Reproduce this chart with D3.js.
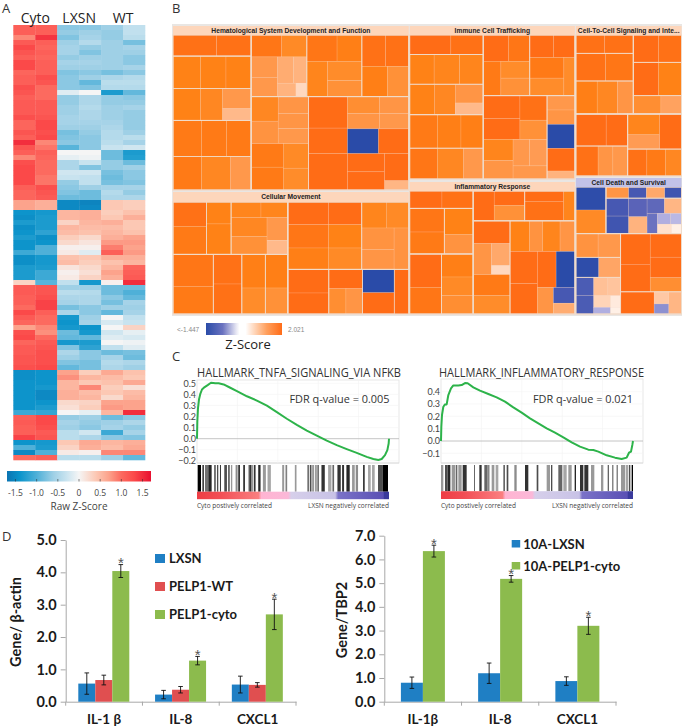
<!DOCTYPE html>
<html><head><meta charset="utf-8">
<script src="https://d3js.org/d3.v7.min.js"></script>
<style>html,body{margin:0;padding:0;background:#fff}svg{display:block}</style>
</head><body><svg id="c" width="683" height="727"></svg>
<script>
// ---------- A: heatmap ----------
const heatCols = ["Cyto1","Cyto2","LXSN1","LXSN2","WT1","WT2"];
const heatGroups = ["Cyto","LXSN","WT"];
const heatRows = [
[1.1,1.1,-.7,-.7,-.6,-.35],[1.1,1.1,-.65,-.6,-.65,-.35],[.85,1.45,-.75,-.55,-.65,-.4],[1.15,1.1,-.6,-.45,-.6,-.8],
[1.3,1.05,-.55,-.65,-.6,-.55],[1.2,1.1,-.55,-.75,-.6,-.6],[1.1,1.05,-.65,-.6,-.6,-.7],[1.3,1.1,-.55,-.55,-.6,-.7],
[1.3,1.1,-.6,-.6,-.6,-.55],[1.05,1.1,-.75,-.7,-.8,-.7],[1.1,1.25,-.7,-.6,-.5,-.45],[1.1,1.2,-.7,-.9,-.4,-.4],
[1.25,1,-.7,-.75,-.45,-.45],[1.2,1,-.15,0,-1.3,-.9],[1.1,1,-.65,-.5,-.65,-.7],[1.15,1.15,-.65,-.5,-.65,-.65],
[1.15,1.15,-.6,-.45,-.6,-.55],[1.15,1.15,-.6,-.5,-.6,-.65],[1.25,1.2,-.55,-.5,-.6,-.65],[1.05,1.3,-.55,-.55,-.55,-.65],
[1.05,1.3,-.6,-.6,-.5,-.65],[1.2,1.25,-.8,-.65,-.45,-.6],[1.1,1.3,-.75,-.7,-.45,-.4],[1.5,.85,-.7,-.7,-.4,-.55],
[1.2,.95,-.95,-.7,-.3,-.25],[1.1,1.1,0,0,-.85,-1.3],[.85,1.05,-.1,-.05,-.85,-1.25],[1.25,1,-.5,-.3,-.65,-.85],
[1.3,1,-.5,-.75,-.65,-.6],[1.3,1,-.25,-.25,-.8,-.7],[1.3,.95,-.3,-.35,-.85,-.7],[1.3,.95,-.65,-.35,-.8,-.75],
[1.1,1.25,-.7,-.6,-.55,-.55],[1.05,1.2,-.75,-.85,-.45,-.65],[1.05,1.15,-.85,-.85,-.5,-.5],[.7,.6,-1.5,-1.55,.4,.35],
[.7,.6,-1.5,-1.5,.4,.35],[-1.4,-1.35,.55,.6,.35,.45],[-1.45,-1.3,.55,.6,.4,.6],[-1.3,-1.3,.3,.55,.6,.4],
[-1.45,-1.3,.55,.5,.5,.4],[-1.4,-1.2,.5,.45,.55,.45],[-1.3,-1.45,.35,.25,.6,.7],[-1.4,-1.4,.25,.15,.75,.75],
[-1.4,-1,.05,.05,.9,.7],[-1.1,-1,.1,-.15,1.1,.75],[-1.45,-1.35,.45,.4,.6,.6],[-1.45,-1.35,.5,.35,.45,.55],
[-1.3,-1.3,.15,.25,.55,1.05],[-1.3,-1.1,.05,.2,.7,1.1],[-1.3,-1.1,.1,.3,.6,1.15],[.3,-.95,-.35,-1.35,.05,1.5],
[1.15,1.2,-.6,-.6,-.85,-.85],[1.15,1.2,-.4,-.45,-.85,-1],[1.1,1.25,-.5,-.5,-.7,-.9],[1.1,1.35,-.55,-.5,-.8,-.55],
[1,1.35,-.8,-.7,-.6,-.6],[1.3,1.1,-.5,-.7,-.9,-.55],[1.15,1,-1.35,-.6,0,-.35],[1.05,1,-1.4,-.55,-.2,-.3],
[.7,.85,-1.35,-1.4,0,.3],[1.25,.8,-.85,-1.35,-.25,-.1],[1.3,1,-.9,-.9,-.15,-.2],[1.05,1.15,-1.35,-1.3,0,-.05],
[1.15,1.2,-.75,-1.2,-.35,-.15],[1.15,1.25,-.5,-.7,-.85,-.8],[1.2,1.25,-.6,-.7,-.55,-.85],[1.2,1.25,-.75,-.8,-.45,-.5],
[1.25,1.3,-.9,-.8,-.5,-.6],[-1.45,-1.4,.7,.35,.65,.45],[-1.45,-1.4,.8,.55,.5,.4],[-1.4,-1.4,.55,.4,.45,.65],
[-1.4,-1.35,.55,.85,.35,.2],[-1.4,-1.5,.6,.5,.4,.5],[-1.4,-1.5,.6,.55,.25,.55],[-1.4,-1.4,.25,.3,.7,.7],
[-1.4,-1.3,.2,.35,.75,.7],[-1.1,-1.15,0,-.1,.55,1.5],[1.1,1.3,-.65,-.6,-.85,-.7],[1.15,1.3,-.55,-.65,-.6,-.5],
[1.1,1.25,-.6,-.7,-.55,-.65],[1.1,1.15,-.4,-.25,-1.1,-.55],[1.35,1.2,-.4,-.5,-.7,-.75],[-1.4,-1.35,.4,.65,.55,.6],
[-1,-1.3,.3,.6,.5,.65],[-1.5,-1,.1,.05,.85,.85],[1,1.1,-.4,-.4,-.6,-.9]];
const heatLegendTicks = [-1.5,-1,-.5,0,.5,1,1.5];
const heatLegendLabels = ["-1.5","-1.0","-0.5","0","0.5","1.0","1.5"];
const heatDomain = [-1.7,-1.4,-1,-.6,-.3,0,.4,.7,1,1.3,1.7];
const heatColors = ["#0b74b2","#0a94cb","#4fb0d8","#9fd0e6","#c8e3ef","#f5f5f5","#fcc8b4","#fca38c","#fc6a5f","#fb4a4a","#e81030"];

// ---------- B: treemap. Node: [size, z] | [size,"h"|"v",...children] | [size,"Header"] | [size]
const hemeCells = [155,"h",
 [233,"v",[63,"h",[130,1.95],[103,1.95]],
  [192,"v",[97,"h",[82,1.75],[76,1.75],[75,1.75]],[95,"h",[82,1.75],[66,1.65],[85,"v",[60,1.3],[35,.8]]]],
  [208,"v",[108,"h",[85,1.85],[75,1.85],[73,1.85]],[100,"h",[85,1.85],[87,1.65],[61,1.3]]]],
 [470,"v",
  [185,"h",
   [164,"v",[65,"h",[90,1.9],[74,1.6]],[118,"h",[78,"v",[62,1.3],[56,1.3]],[86,"v",[78,"h",[47,1],[39,.9]],[40,"h",[54,.9],[32,.4]]]]],
   [162,"v",[78,"h",[89,1.9],[73,1.8]],[105,"h",[61,1.7],[101,"v",[57,1.55],[48,1.45]]]],
   [138,"v",[93,"h",[70,1.95],[68,1.95]],[90,"h",[75,1.8],[63,1.45]]]],
  [280,"h",
   [170,"v",[140,"h",[80,"v",[73,1.65],[67,1.4]],[90,"v",[50,1.35],[45,1.35],[45,1.3]]],
    [138,"h",[95,"v",[70,1.85],[68,1.85]],[75,"v",[73,1.6],[65,1.55]]]],
   [296,"v",[172,"h",[115,"v",[95,2],[77,2]],
     [181,"v",[95,"h",[93,"v",[50,1.5],[45,1.35]],[86,"v",[50,1.35],[45,1.3]]],[73,"h",[90,-1.447],[88,2]]]],
    [110,"h",[115,2],[181,"h",[110,"v",[55,2],[55,2]],[71,"v",[82,2],[28,.85]]]]]]]];
const immuneCells = [144,"h",
 [218,"v",[58,"h",[122,2],[96,1.95]],
  [180,"v",[89,"h",[72,1.75],[75,1.7],[70,1.7]],[91,"h",[73,1.75],[62,1.65],[83,"v",[56,1.35],[35,.8]]]],
  [192,"v",[100,"h",[82,1.85],[70,1.8],[66,1.8]],[92,"h",[82,1.9],[78,1.65],[58,1.3]]]],
 [272,"v",
  [182,"h",
   [137,"v",[78,"h",[75,2],[62,1.9]],[102,"h",[52,1.85],[85,"v",[50,1.55],[52,1.45]]]],
   [133,"v",[67,"h",[69,2],[62,2]],[113,"h",[99,"v",[61,1.85],[52,1.55]],[32,1.55]]]],
  [250,"h",
   [188,"v",[130,"h",[107,"v",[68,2],[62,2]],[79,"v",[73,1.95],[57,1.45]]],
    [118,"h",[87,"v",[63,1.7],[55,1.35]],[99,"v",[79,"h",[48,1.3],[51,1.25]],[39,1.3]]]],
   [82,"v",[43,1.3],[43,1.35],[72,-1.447],[68,2],[24,.9]]]]];
const signalCells = [141,"v",
 [237,"h",
  [170,"v",[55,"h",[85,1.95],[85,1.95]],[83,"h",[88,1.95],[82,1.9]],[99,"h",[63,1.8],[60,1.65],[47,1.35]]],
  [143,"v",[82,"h",[75,2],[68,1.95]],[100,"h",[75,2],[68,1.75]],[55,"h",[82,1.5],[61,1.15]]]],
 [186,"h",
  [154,"v",[94,"h",[90,2],[64,2]],[88,"h",[66,1.95],[44,1.35],[44,1.3]]],
  [160,"v",[103,"h",[94,"v",[61,1.7],[42,1.25]],[64,2]],[79,"h",[57,1.95],[55,1.85],[48,1.65]]]]];
const moveCells = [112,"h",
 [342,"v",
  [157,"h",[100,"v",[72,1.95],[83,1.85]],[73,"v",[65,1.75],[90,1.75]],
   [169,"v",[47,"h",[89,1.7],[80,1.7]],[110,"h",[107,"v",[56,1.65],[52,1.45]],[62,"v",[68,1.3],[42,.8]]]]],
  [179,"h",[120,"v",[96,1.9],[83,1.85]],[85,"v",[89,1.95],[90,1.95]],[70,"v",[101,1.8],[78,1.55]],[67,"v",[101,1.8],[78,1.45]]]],
 [360,"v",
  [202,"h",[217,"v",[68,"h",[120,2],[97,2]],[70,"h",[120,1.9],[97,1.75]],[64,"h",[120,1.8],[97,1.6]]],
   [138,"v",[78,"h",[72,1.7],[66,1.6]],[124,"h",[95,"v",[64,1.4],[60,1.35]],[43,1.4]]]],
  [134,"h",[122,"v",[71,2],[63,2]],[100,"v",[58,2],[76,"h",[50,1.5],[48,1.35]]],[95,"v",[69,-1.447],[63,2]],[43,2]]]];
const inflamCells = [123,"h",
 [187,"v",[52,"h",[95,2],[92,1.95]],
  [137,"h",[102,"v",[70,1.9],[65,1.85]],[85,"v",[78,1.75],[57,1.4]]],
  [180,"h",[93,"v",[100,2],[80,1.9]],[92,"v",[69,1.8],[56,1.6],[55,1.5]]]],
 [300,"v",
  [90,"h",[152,"h",[62,2],[90,"v",[43,2],[47,1.45]]],[148,"h",[115,"v",[31,2],[59,1.95]],[33,1.7]]],
  [281,"h",
   [108,"v",[68,2],[93,"h",[53,1.35],[54,"v",[66,1.05],[27,.4]]],[118,"v",[63,1.85],[55,1.55]]],
   [190,"v",[91,"h",[57,1.75],[38,1.4],[50,1.7],[43,1.35]],
    [186,"h",[80,"v",[96,2],[90,2]],
     [110,"v",[106,"h",[55,2],[55,-1.447]],[78,"h",[47,1.35],[63,"v",[45,-1.15],[31,1]]]]]]]]];
const deathCells = [127,"v",
 [140,"h",
  [90,"v",[68,-1.4],[70,1.6]],
  [226,"v",[33,"h",[68,1.35],[53,-1.15],[55,1.05],[50,-1.2]],
   [105,"h",[68,"v",[53,-1.15],[52,-1.2]],[55,"v",[55,-1],[50,.9]],
    [103,"v",[45,"h",[52,-.95],[51,.85]],[60,"h",[31,-.8],[72,"v",[32,"h",[39,-.4],[33,-.35]],[28,"h",[42,.3],[30,.15]]]]]]]],
 [241,"h",
  [133,"v",[71,"h",[66,1.4],[67,1.3]],[60,"h",[68,-1.4],[65,1.1]],
   [110,"h",[53,"v",[54,-1.1],[56,-1.1]],[80,"v",[55,"h",[42,.7],[38,.65]],[35,"h",[50,.45],[30,.2]],[20,"h",[50,-.4],[30,.15]]]]],
  [181,"v",[173,"h",[88,"v",[91,2],[82,2]],[93,"v",[70,2],[61,2],[42,1.5]]],
   [66,"h",[98,2],[43,"v",[36,.6],[30,-.6]],[37,.85]]]]];
const treeRoot = ["h",
 [235.5,"v",[9,"Hematological System Development and Function"],hemeCells,[2],[10,"Cellular Movement"],moveCells],
 [1],
 [165,"v",[9,"Immune Cell Trafficking"],immuneCells,[3],[9,"Inflammatory Response"],inflamCells],
 [1],
 [105.5,"v",[9,"Cell-To-Cell Signaling and Inte..."],signalCells,[2],[9,"Cell Death and Survival"],deathCells]];
const zDomain = [-1.447,-1.2,-1,-.8,-.4,0,.3,.7,1.1,1.35,1.6,1.8,2];
const zColors = ["#2a4ca8","#3f55b0","#5a64b8","#6a72c0","#b0aee0","#ffffff","#ffe0cc","#ffc096","#ffa565","#ff9545","#ff8a25","#ff7f15","#ff6c18"];

// ---------- C: GSEA ----------
const esTicksA = [.5,.4,.3,.2,.1,0,-.1,-.2];
const esTicksB = [.4,.3,.2,.1,0,-.1];
const rankA = [0,1,3,6,10,15,23,32,42,55,65,80,100,120,150,180,210,240,270,300,330,360,390,420,450,480,510,530,545,555,565,572,576,577];
const esA = [0,.155,.277,.353,.405,.444,.466,.484,.505,.5,.5,.49,.46,.43,.383,.344,.298,.24,.18,.125,.073,.027,-.018,-.058,-.094,-.128,-.164,-.183,-.192,-.183,-.149,-.103,-.043,0];
const rankB = [0,1,3,7,12,17,22,30,37,52,62,72,80,97,117,142,167,192,217,242,267,292,317,342,367,392,417,442,457,472,497,522,542,557,564,570,574,576];
const esB = [0,.116,.211,.278,.297,.297,.373,.427,.451,.451,.454,.47,.468,.435,.408,.381,.354,.319,.273,.23,.184,.143,.103,.068,.03,-.011,-.046,-.07,-.073,-.086,-.116,-.135,-.146,-.135,-.095,-.086,-.032,0];
const hitsA = [[2,12,1],[16,21,.75],[24,34,.55],[34,44,.85],[52,56,.8],[60,64,.7],[69,72,.8],[82,90,.7],[94,98,.8],[102,106,.4],[116,122,.45],[124,129,.85],[139,144,.85],[154,157,.4],[157,164,.8],[164,169,.4],[171,176,.8],[184,191,.85],[198,207,.4],[212,222,.35],[256,262,.4],[266,271,.5],[294,299,.4],[332,336,.7],[339,344,.7],[346,352,.4],[356,359,.7],[362,366,.7],[374,384,.8],[394,404,.35],[407,412,.6],[422,432,.8],[436,442,.8],[449,459,.85],[466,474,.4],[477,484,.45],[499,504,.8],[514,522,.35],[526,534,.35],[544,556,.7],[557,574,1]];
const hitsB = [[0,7,.4],[12,18,.7],[19,28,.85],[32,42,.4],[44,49,.6],[52,62,.4],[65,77,.8],[100,102,.9],[115,122,.8],[130,140,.6],[142,145,.7],[152,160,.4],[164,172,.35],[187,192,.6],[197,202,.7],[220,227,.45],[252,262,.8],[287,292,.7],[317,327,.4],[330,334,.7],[352,364,.6],[367,377,.35],[382,392,.4],[401,405,.85],[417,427,.8],[430,442,.8],[450,460,.4],[480,487,.4],[500,504,.6],[514,517,.7],[527,530,.7],[540,552,.4],[554,562,.35],[564,568,.7],[572,576,1]];
const barStops = [[0,"#ee3d44"],[.12,"#f24e55"],[.32,"#fa7f80"],[.335,"#ffb4d2"],[.475,"#fbb8d8"],[.49,"#d6cfea"],[.72,"#c8c2e6"],[.735,"#7a72c8"],[.97,"#5a50b4"],[.975,"#3a3a9c"],[1,"#3a3a9c"]];

// ---------- D: bars ----------
const genesL = ["IL-1 β","IL-8","CXCL1"];
const seriesL = ["LXSN","PELP1-WT","PELP1-cyto"];
const lxsnL = [.56,.22,.53], lxsnErrL = [.33,.13,.26];
const wtL = [.67,.37,.52], wtErrL = [.15,.1,.07];
const cytoL = [4.04,1.27,2.7], cytoErrL = [.2,.13,.47];
const genesR = ["IL-1β","IL-8","CXCL1"];
const seriesR = ["10A-LXSN","10A-PELP1-cyto"];
const lxsnR = [.8,1.2,.87], lxsnErrR = [.24,.43,.18];
const cytoR = [6.35,5.18,3.2], cytoErrR = [.25,.14,.36];

const svg = d3.select("#c");
const sans = "'Open Sans','Noto Sans',sans-serif", lato = "Lato,sans-serif", arial = "'Liberation Sans',Arial,sans-serif";
const txt = (x,y,s,o={}) => svg.append("text").attr("x",x).attr("y",y).text(s)
  .attr("font-family",o.f||sans).attr("font-size",o.s||11).attr("font-weight",o.w||400)
  .attr("fill",o.c||"#222").attr("text-anchor",o.a||"start");
const defs = svg.append("defs");
defs.append("filter").attr("id","soft").attr("x","-2%").attr("y","-2%").attr("width","104%").attr("height","104%")
  .append("feGaussianBlur").attr("stdDeviation",.55);

// panel letters
[["A",2,13],["B",172,13],["C",172,361],["D",2,541]].forEach(d=>txt(d[1],d[2],d[0],{s:13,c:"#333"}));

// --- heatmap
const hx = d3.scaleBand().domain(heatCols).range([13.3,145]);
const hy = d3.scaleBand().domain(d3.range(heatRows.length)).range([25,460]);
const heat = d3.scaleLinear().domain(heatDomain).range(heatColors).clamp(true);
const hm = svg.append("g").attr("filter","url(#soft)");
hm.selectAll("g").data(heatRows).join("g").each(function(row,i){
  d3.select(this).selectAll("rect").data(row).join("rect")
    .attr("x",(d,j)=>hx(heatCols[j])).attr("y",hy(i))
    .attr("width",hx.bandwidth()+.3).attr("height",hy.bandwidth()+.3).attr("fill",d=>heat(d));
});
heatGroups.forEach((g,i)=>txt(hx(heatCols[i*2+1]),23,g,{s:14,a:"middle",c:"#222"}));
const hgrad = defs.append("linearGradient").attr("id","hgrad");
heatDomain.forEach((d,i)=>hgrad.append("stop").attr("offset",(d+1.7)/3.4).attr("stop-color",heatColors[i]));
const hl = d3.scaleLinear().domain([-1.7,1.7]).range([7,151]);
svg.append("rect").attr("x",hl(-1.7)).attr("y",471).attr("width",hl(1.7)-hl(-1.7)).attr("height",10.5).attr("fill","url(#hgrad)");
svg.append("g").selectAll("line").data(heatLegendTicks).join("line")
  .attr("x1",hl).attr("x2",hl).attr("y1",479).attr("y2",481.5).attr("stroke","#333").attr("stroke-width",.6);
heatLegendTicks.forEach((t,i)=>txt(hl(t),496,heatLegendLabels[i],{s:8.5,a:"middle",c:"#444"}));
txt(79,510,"Raw Z-Score",{s:10,a:"middle",c:"#444"});

// --- treemap
const panel = svg.append("rect").attr("x",172).attr("y",24).attr("width",510).attr("height",292).attr("fill","#e9e6e3");
const zColor = d3.scaleLinear().domain(zDomain).range(zColors).clamp(true);
const isSplit = d => d[1]==="h"||d[1]==="v";
const kidsOf = d => d[0]==="h"||d[0]==="v" ? d.slice(1) : (isSplit(d)?d.slice(2):null);
const dirOf = d => d[0]==="h"||d[0]==="v" ? d[0] : d[1];
const hier = d3.hierarchy(treeRoot, kidsOf);
hier.x0=173; hier.x1=681.5; hier.y0=26; hier.y1=314;
hier.eachBefore(n=>{
  if(!n.children) return;
  const dir = dirOf(n.data), h = dir==="h";
  const total = d3.sum(n.children,c=>c.data[0]);
  const s = d3.scaleLinear().domain([0,total]).range(h?[n.x0,n.x1]:[n.y0,n.y1]);
  let acc=0;
  n.children.forEach(c=>{
    const a=s(acc), b=s(acc+=c.data[0]);
    if(h){c.x0=a;c.x1=b;c.y0=n.y0;c.y1=n.y1;}else{c.y0=a;c.y1=b;c.x0=n.x0;c.x1=n.x1;}
  });
});
const leaves = hier.leaves();
const tg = svg.append("g").attr("filter","url(#soft)");
tg.append("g").selectAll("rect").data(leaves.filter(n=>typeof n.data[1]==="number")).join("rect")
  .attr("x",n=>n.x0).attr("y",n=>n.y0).attr("width",n=>n.x1-n.x0).attr("height",n=>n.y1-n.y0)
  .attr("fill",n=>zColor(n.data[1])).attr("stroke","#ffd8bc").attr("stroke-opacity",.35).attr("stroke-width",.5);
// branch separators
tg.append("g").selectAll("rect").data(hier.descendants().filter(n=>n.children&&n.depth>=3&&n.depth<=5)).join("rect")
  .attr("x",n=>n.x0).attr("y",n=>n.y0).attr("width",n=>n.x1-n.x0).attr("height",n=>n.y1-n.y0)
  .attr("fill","none").attr("stroke","#f0dccb").attr("stroke-opacity",.8).attr("stroke-width",.8);
leaves.filter(n=>typeof n.data[1]==="string").forEach(n=>{
  const dead = n.data[1].startsWith("Cell Death");
  svg.append("rect").attr("x",n.x0).attr("y",n.y0).attr("width",n.x1-n.x0).attr("height",n.y1-n.y0).attr("fill",dead?"#c2c2e8":"#fdd6bb");
  txt((n.x0+n.x1)/2,(n.y0+n.y1)/2+2.4,n.data[1],{f:arial,s:6.7,w:700,a:"middle",c:"#222"});
});
const zg = defs.append("linearGradient").attr("id","zgrad");
[[0,"#2a4ca8"],[.22,"#6a72c0"],[.4,"#e8e8f4"],[.44,"#ffffff"],[.52,"#ffffff"],[.6,"#ffe3d0"],[.8,"#ff9f5c"],[1,"#ff6c18"]]
  .forEach(s=>zg.append("stop").attr("offset",s[0]).attr("stop-color",s[1]));
svg.append("rect").attr("x",206).attr("y",323).attr("width",76).attr("height",12).attr("fill","url(#zgrad)");
txt(177,332,"<-1.447",{f:arial,s:6.5,c:"#888"});
txt(288,332,"2.021",{f:arial,s:6.5,c:"#888"});
txt(248,349,"Z-Score",{s:13,a:"middle",c:"#222"});

// --- GSEA
const ink = d3.interpolateRgb("#ffffff","#000000");
function gsea(o){
  const x = d3.scaleLinear().domain([0,o.maxRank]).range([o.x0,o.x1]);
  const y = d3.scaleLinear().domain([0,1]).range([o.y0,o.y0-o.pxPerUnit]);
  const g = svg.append("g");
  g.append("rect").attr("x",o.bx0).attr("y",o.by0).attr("width",o.bx1-o.bx0).attr("height",o.by1-o.by0)
    .attr("fill","none").attr("stroke","#e2e2e2").attr("stroke-width",.8);
  g.append("line").attr("x1",o.bx0).attr("x2",o.bx1).attr("y1",o.by1).attr("y2",o.by1).attr("stroke","#d8d8d8").attr("stroke-width",.8);
  d3.range(1,5).forEach(i=>{const gx=o.bx0+(o.bx1-o.bx0)*i/5;
    g.append("line").attr("x1",gx).attr("x2",gx).attr("y1",o.by0).attr("y2",o.by1).attr("stroke","#f2f2f2").attr("stroke-width",.6);});
  o.ticks.forEach(t=>{
    if(t!==0) g.append("line").attr("x1",o.bx0).attr("x2",o.bx1).attr("y1",y(t)).attr("y2",y(t)).attr("stroke","#f3f3f3").attr("stroke-width",.6);
    txt(o.bx0-1,y(t)+3.3,d3.format(".1f")(t),{f:lato,s:9,a:"end",c:"#444"});
  });
  g.append("line").attr("x1",o.bx0).attr("x2",o.bx1).attr("y1",y(0)).attr("y2",y(0)).attr("stroke","#b5b5b5").attr("stroke-width",.8);
  g.append("path").datum(o.rank).attr("d",d3.line().x(d=>x(d)).y((d,i)=>y(o.es[i])))
    .attr("fill","none").attr("stroke","#2db34a").attr("stroke-width",2).attr("stroke-linejoin","round");
  const rg = g.append("g").attr("filter","url(#soft)");
  rg.selectAll("rect").data(o.hits).join("rect")
    .attr("x",d=>x(d[0])).attr("width",d=>x(d[1])-x(d[0])).attr("y",o.rugY).attr("height",o.barY-o.rugY)
    .attr("fill",d=>ink(d[2]));
  const id="bar"+o.id, lg=defs.append("linearGradient").attr("id",id);
  barStops.forEach(s=>lg.append("stop").attr("offset",s[0]).attr("stop-color",s[1]));
  g.append("rect").attr("x",o.x0).attr("width",o.x1-o.x0).attr("y",o.barY).attr("height",o.barH).attr("fill","url(#"+id+")");
  txt(o.tx0,377,o.title,{s:12,c:"#333"}).attr("textLength",o.tw).attr("lengthAdjust","spacingAndGlyphs");
  txt(o.fx,o.fy,o.fdr,{s:11.5,c:"#333"}).attr("textLength",o.fw).attr("lengthAdjust","spacingAndGlyphs");
  txt(o.x0,507.5,"Cyto postively correlated",{s:6.7,c:"#444"}).attr("textLength",75).attr("lengthAdjust","spacingAndGlyphs");
  txt(o.x1,507.5,"LXSN negatively correlated",{s:6.7,c:"#444",a:"end"}).attr("textLength",81).attr("lengthAdjust","spacingAndGlyphs");
}
gsea({id:"a",title:"HALLMARK_TNFA_SIGNALING_VIA NFKB",fdr:"FDR q-value = 0.005",rank:rankA,es:esA,hits:hitsA,ticks:esTicksA,maxRank:577,
  x0:197,x1:389,y0:438.7,pxPerUnit:110.8,bx0:197,bx1:399,by0:380,by1:463,rugY:465,barY:491.7,barH:7.5,tx0:197,tw:204,fx:289.5,fy:403,fw:100});
gsea({id:"b",title:"HALLMARK_INFLAMMATORY_RESPONSE",fdr:"FDR q-value = 0.021",rank:rankB,es:esB,hits:hitsB,ticks:esTicksB,maxRank:576,
  x0:441,x1:633,y0:441,pxPerUnit:123.3,bx0:441,bx1:643,by0:379,by1:463,rugY:465,barY:491.2,barH:7.8,tx0:439,tw:205,fx:533,fy:403,fw:100});

// --- bars
function bars(o){
  const g = svg.append("g");
  const x = d3.scaleBand().domain(o.genes).range([o.left,o.right]);
  const y = d3.scaleLinear().domain([0,o.max]).range([o.base,o.top]);
  const inner = d3.scaleBand().domain(o.series).range([0,o.barW*o.series.length]);
  const off = o.barOff;
  const ya = g.append("g").attr("transform",`translate(${o.left},0)`)
    .call(d3.axisLeft(y).tickValues(d3.range(0,o.max+1)).tickFormat(d3.format(".1f")).tickSize(5).tickSizeOuter(0));
  ya.selectAll("path,line").attr("stroke","#a8a8a8");
  ya.selectAll("text").attr("font-family",lato).attr("font-size",14.5).attr("font-weight",700).attr("fill","#1a1a1a").attr("x",o.tickX);
  const xa = g.append("g").attr("transform",`translate(0,${o.base})`)
    .call(d3.axisBottom(x).tickSize(0).tickPadding(o.labelPad));
  xa.select("path").attr("stroke","#a8a8a8");
  xa.selectAll("text").attr("font-family",lato).attr("font-size",13.5).attr("font-weight",700).attr("fill","#1a1a1a");
  [o.left].concat(o.genes.map(c=>x(c)+x.step())).forEach(v=>g.append("line").attr("x1",v).attr("x2",v).attr("y1",o.base).attr("y2",o.base+4).attr("stroke","#a8a8a8"));
  o.series.forEach((s,k)=>{
    const vals=o.vals[k], errs=o.errs[k], bx=i=>x(o.genes[i])+off+inner(s);
    g.append("g").selectAll("rect").data(vals).join("rect")
      .attr("x",(d,i)=>bx(i)).attr("width",inner.bandwidth()).attr("y",d=>y(d)).attr("height",d=>o.base-y(d)).attr("fill",o.colors[k]);
    vals.forEach((d,i)=>{
      const cx=bx(i)+inner.bandwidth()/2, t=y(d+errs[i]), b=y(d-errs[i]);
      [[cx,cx,t,b],[cx-2.3,cx+2.3,t,t],[cx-2.3,cx+2.3,b,b]].forEach(l=>
        g.append("line").attr("x1",l[0]).attr("x2",l[1]).attr("y1",l[2]).attr("y2",l[3]).attr("stroke","#111").attr("stroke-width",.9));
      if(k===o.series.length-1) txt(cx,t+3.5,"*",{f:arial,s:15,a:"middle",c:"#555"});
    });
  });
  o.series.forEach((s,k)=>{
    g.append("rect").attr("x",o.legX).attr("y",o.legY[k]).attr("width",o.legS).attr("height",o.legS-1).attr("fill",o.colors[k]);
    txt(o.legX+o.legS+o.legGap,o.legY[k]+9.3,s,{f:lato,s:13,w:700,c:"#1a1a1a"});
  });
  txt(0,0,o.ylabel,{f:lato,s:14.5,w:700,a:"middle",c:"#1a1a1a"}).attr("transform",`translate(${o.ylx},${o.yly}) rotate(-90)`);
}
bars({genes:genesL,series:seriesL,vals:[lxsnL,wtL,cytoL],errs:[lxsnErrL,wtErrL,cytoErrL],colors:["#1f7fc4","#e04f50","#8cbb4d"],
  left:65.7,right:296,base:701.7,top:540,max:5,barW:17,barOff:12.6,tickX:-9,labelPad:13,ylabel:"Gene/ β-actin",ylx:21,yly:622,
  legX:155,legY:[554,582,610],legS:10,legGap:4});
bars({genes:genesR,series:seriesR,vals:[lxsnR,cytoR],errs:[lxsnErrR,cytoErrR],colors:["#1f7fc4","#8cbb4d"],
  left:384.3,right:616,base:701.7,top:535.7,max:7,barW:22,barOff:16.6,tickX:-9,labelPad:13,ylabel:"Gene/TBP2",ylx:347,yly:620,
  legX:511.7,legY:[540,562],legS:8.5,legGap:3});
</script></body></html>
